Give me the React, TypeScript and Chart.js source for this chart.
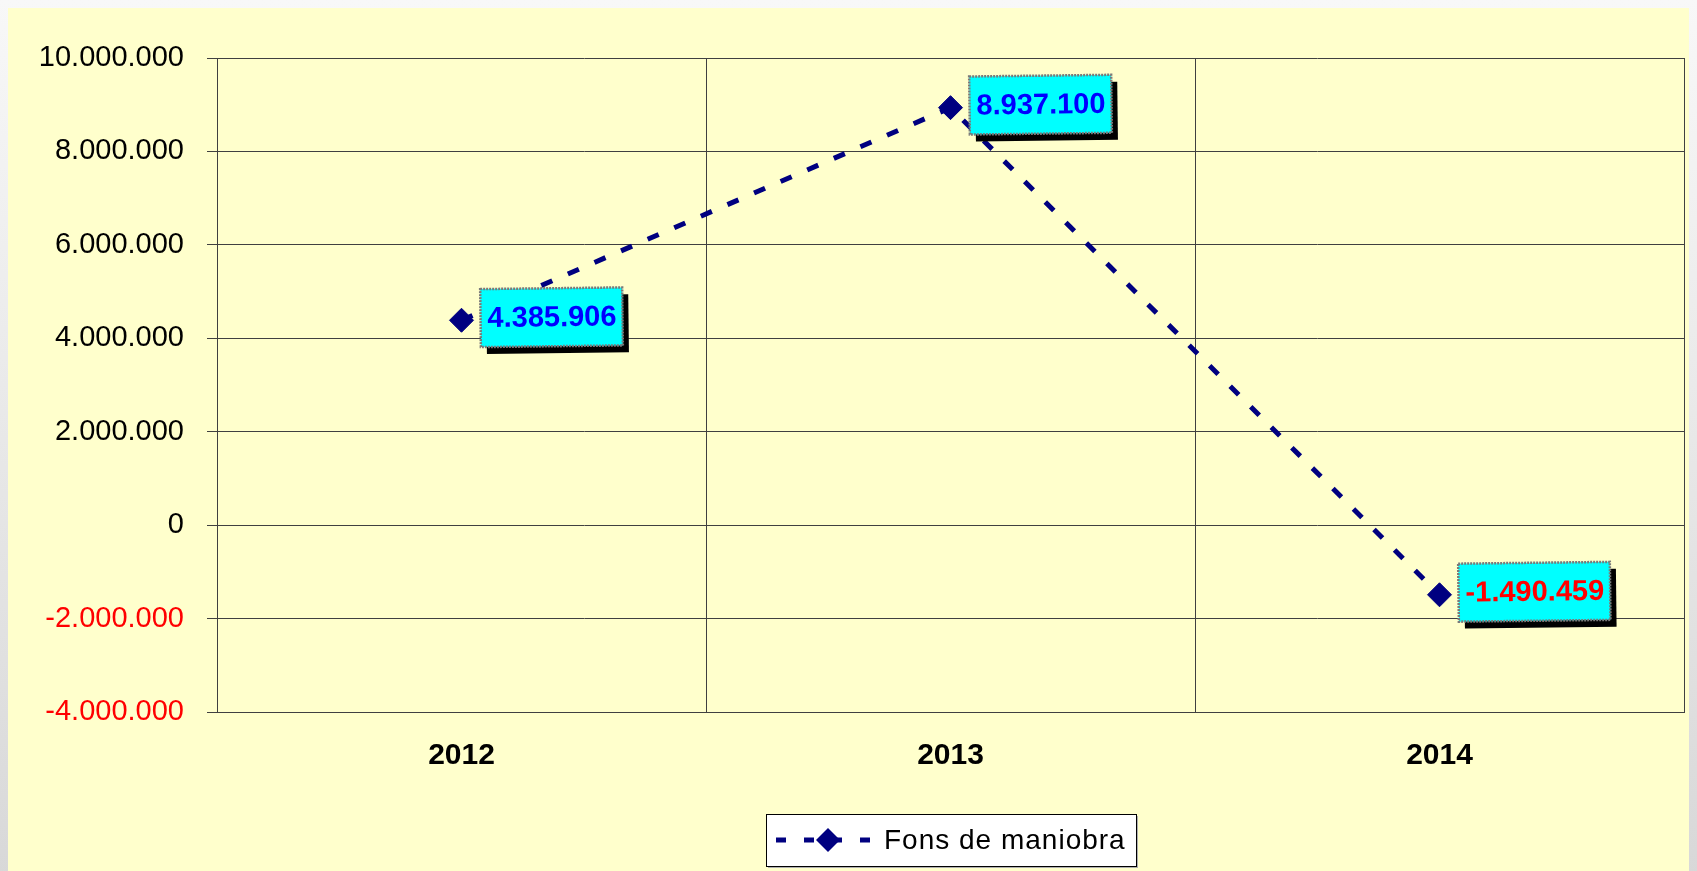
import React, { useEffect, useRef } from "react";
import { Chart, registerables } from "chart.js";

Chart.register(...registerables);

const categories = ["2012", "2013", "2014"];
const seriesLabel = "Fons de maniobra";
const seriesValues = [4385906, 8937100, -1490459];
const yMin = -4000000;
const yMax = 10000000;
const yStep = 2000000;

const FONT = "Arial, 'Liberation Sans', sans-serif";
const NAVY = "#000080";

function fmt(v: number): string {
  const s = Math.abs(Math.round(v)).toString().replace(/\B(?=(\d{3})+(?!\d))/g, ".");
  return (v < 0 ? "-" : "") + s;
}

const labelPlugin = {
  id: "valueLabels",
  afterDatasetsDraw(chart: any) {
    const ctx = chart.ctx;
    const meta = chart.getDatasetMeta(0);
    const data = chart.data.datasets[0].data as number[];
    meta.data.forEach((pt: any, i: number) => {
      const v = data[i];
      const text = fmt(v);
      ctx.save();
      ctx.font = `bold 29px ${FONT}`;
      const tw = ctx.measureText(text).width;
      const w = tw + 13;
      const h = 58;
      const x = pt.x + 19;
      const y = pt.y - 3 - h / 2;
      ctx.translate(x + w / 2, y + h / 2);
      ctx.rotate(-0.012);
      ctx.translate(-(x + w / 2), -(y + h / 2));
      // shadow
      ctx.fillStyle = "#000000";
      ctx.fillRect(x + 6, y + 7, w, h);
      // box
      ctx.fillStyle = "#00FFFF";
      ctx.fillRect(x, y, w, h);
      ctx.strokeStyle = "#7a7a7a";
      ctx.lineWidth = 2.5;
      ctx.setLineDash([2, 1]);
      ctx.strokeRect(x, y, w, h);
      ctx.setLineDash([]);
      ctx.fillStyle = v < 0 ? "#FF0000" : "#0000FF";
      ctx.textAlign = "left";
      ctx.textBaseline = "middle";
      ctx.fillText(text, x + 7, y + h / 2 + 1);
      ctx.restore();
    });
  },
};

const legendPlugin = {
  id: "boxLegend",
  afterDraw(chart: any) {
    const ctx = chart.ctx;
    const label = chart.data.datasets[0].label as string;
    const w = 370;
    const h = 52;
    const left = 758;
    const top = 806;
    ctx.save();
    ctx.fillStyle = "#B0B0B0";
    ctx.fillRect(left + 2, top + 2, w, h);
    ctx.fillStyle = "#FFFFFF";
    ctx.fillRect(left, top, w, h);
    ctx.strokeStyle = "#000000";
    ctx.lineWidth = 1;
    ctx.strokeRect(left + 0.5, top + 0.5, w, h);
    const my = top + h / 2;
    ctx.strokeStyle = NAVY;
    ctx.lineWidth = 5;
    ctx.setLineDash([10, 18]);
    ctx.beginPath();
    ctx.moveTo(left + 10, my);
    ctx.lineTo(left + 105, my);
    ctx.stroke();
    ctx.setLineDash([]);
    const dx = left + 62;
    const r = 12;
    ctx.fillStyle = NAVY;
    ctx.beginPath();
    ctx.moveTo(dx - r, my);
    ctx.lineTo(dx, my - r);
    ctx.lineTo(dx + r, my);
    ctx.lineTo(dx, my + r);
    ctx.closePath();
    ctx.fill();
    ctx.fillStyle = "#000000";
    ctx.font = `28px ${FONT}`;
    ctx.textAlign = "left";
    ctx.textBaseline = "middle";
    (ctx as any).letterSpacing = "1px";
    ctx.fillText(label, left + 118, my + 1);
    ctx.restore();
  },
};

export default function App() {
  const ref = useRef<HTMLCanvasElement | null>(null);
  useEffect(() => {
    document.documentElement.style.overflow = "hidden";
    document.documentElement.style.background = "linear-gradient(to bottom, #f8f8f8, #d8d8d8)";
    document.body.style.overflow = "hidden";
    const canvas = ref.current!;
    const chart = new Chart(canvas, {
      type: "line",
      data: {
        labels: categories,
        datasets: [
          {
            label: seriesLabel,
            data: seriesValues,
            borderColor: NAVY,
            backgroundColor: NAVY,
            borderWidth: 5,
            borderDash: [12, 17],
            pointStyle: "rectRot",
            pointRadius: 12,
            pointBorderWidth: 1,
            pointBackgroundColor: NAVY,
            pointBorderColor: NAVY,
            tension: 0,
            fill: false,
          },
        ],
      },
      options: {
        responsive: false,
        maintainAspectRatio: false,
        animation: false,
        devicePixelRatio: 1,
        layout: { padding: { top: 50, right: 7, bottom: 0, left: 0 } },
        plugins: {
          legend: { display: false },
          tooltip: { enabled: false },
        },
        scales: {
          x: {
            type: "category",
            offset: true,
            grid: {
              offset: true,
              color: "#404040",
              lineWidth: 1,
              drawTicks: false,
            },
            border: { display: true, color: "#404040", width: 1 },
            ticks: {
              color: "#000000",
              font: { family: FONT, size: 30, weight: "bold" },
              padding: 26,
              maxRotation: 0,
            },
            afterFit(scale: any) {
              scale.height = 159;
              scale.paddingLeft = 0;
              scale.paddingRight = 0;
            },
          },
          y: {
            min: yMin,
            max: yMax,
            grid: {
              color: "#404040",
              lineWidth: 1,
              drawTicks: true,
              tickLength: 10,
            },
            border: { display: true, color: "#404040", width: 1 },
            ticks: {
              stepSize: yStep,
              padding: 23,
              font: { family: FONT, size: 29 },
              color: (c: any) => (c.tick && c.tick.value < 0 ? "#FF0000" : "#000000"),
              callback: (v: any) => fmt(Number(v)),
            },
            afterFit(scale: any) {
              scale.width = 209;
            },
          },
        },
      },
      plugins: [labelPlugin, legendPlugin],
    });
    return () => chart.destroy();
  }, []);
  return (
    <div style={{ width: "1689px", height: "863px" }}>
      <canvas
        ref={ref}
        width={1689}
        height={863}
        style={{ display: "block", width: "1689px", height: "863px", background: "#FFFFCC" }}
      />
    </div>
  );
}
